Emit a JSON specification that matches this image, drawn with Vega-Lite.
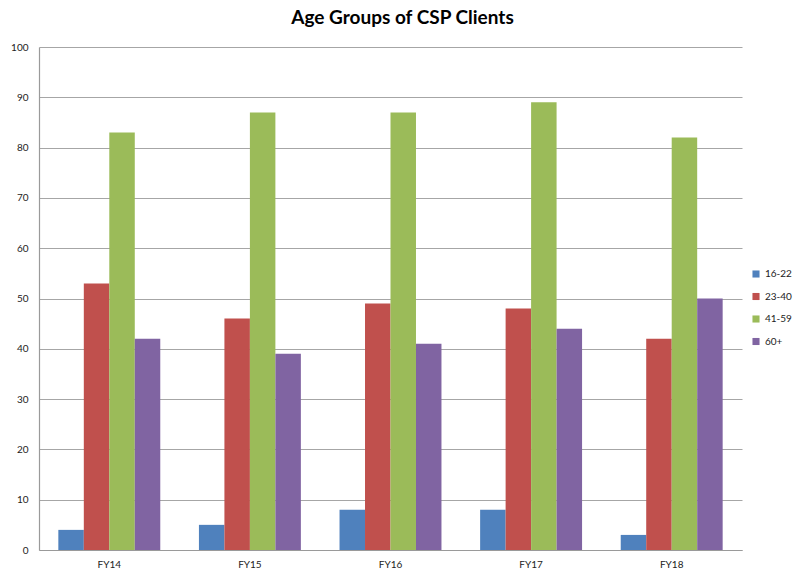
{
  "$schema": "https://vega.github.io/schema/vega-lite/v6.json",
  "autosize": "none",
  "width": 703,
  "height": 503,
  "padding": {"left": 39, "top": 47, "right": 65, "bottom": 29},
  "background": "white",
  "title": {
    "text": "Age Groups of CSP Clients",
    "fontSize": 19,
    "font": "Lato",
    "fontWeight": "bold",
    "color": "#000000",
    "anchor": "middle",
    "dx": 12,
    "offset": 14
  },
  "data": {
    "values": [
      {"year": "FY14", "group": "16-22", "value": 4},
      {"year": "FY14", "group": "23-40", "value": 53},
      {"year": "FY14", "group": "41-59", "value": 83},
      {"year": "FY14", "group": "60+", "value": 42},
      {"year": "FY15", "group": "16-22", "value": 5},
      {"year": "FY15", "group": "23-40", "value": 46},
      {"year": "FY15", "group": "41-59", "value": 87},
      {"year": "FY15", "group": "60+", "value": 39},
      {"year": "FY16", "group": "16-22", "value": 8},
      {"year": "FY16", "group": "23-40", "value": 49},
      {"year": "FY16", "group": "41-59", "value": 87},
      {"year": "FY16", "group": "60+", "value": 41},
      {"year": "FY17", "group": "16-22", "value": 8},
      {"year": "FY17", "group": "23-40", "value": 48},
      {"year": "FY17", "group": "41-59", "value": 89},
      {"year": "FY17", "group": "60+", "value": 44},
      {"year": "FY18", "group": "16-22", "value": 3},
      {"year": "FY18", "group": "23-40", "value": 42},
      {"year": "FY18", "group": "41-59", "value": 82},
      {"year": "FY18", "group": "60+", "value": 50}
    ]
  },
  "mark": {"type": "bar"},
  "encoding": {
    "x": {
      "field": "year",
      "type": "nominal",
      "scale": {"paddingInner": 0.275, "paddingOuter": 0.1375},
      "axis": {
        "title": null,
        "labelAngle": 0,
        "ticks": false,
        "labelPadding": 9,
        "labelFont": "Lato",
        "labelFontSize": 10,
        "labelColor": "#222222",
        "domainColor": "#9a9a9a",
        "domainWidth": 1.2
      }
    },
    "xOffset": {"field": "group", "type": "nominal", "scale": {"paddingInner": 0, "paddingOuter": 0}},
    "y": {
      "field": "value",
      "type": "quantitative",
      "scale": {"domain": [0, 100], "nice": false},
      "axis": {
        "title": null,
        "values": [0, 10, 20, 30, 40, 50, 60, 70, 80, 90, 100],
        "ticks": false,
        "labelPadding": 11,
        "labelFont": "Lato",
        "labelFontSize": 10,
        "labelColor": "#222222",
        "gridColor": "#a6a6a6",
        "gridWidth": 1,
        "domainColor": "#9a9a9a",
        "domainWidth": 1.2
      }
    },
    "color": {
      "field": "group",
      "type": "nominal",
      "scale": {"domain": ["16-22", "23-40", "41-59", "60+"], "range": ["#4F81BD", "#C0504D", "#9BBB59", "#8064A2"]},
      "legend": {
        "title": null,
        "orient": "none",
        "legendX": 712,
        "legendY": 222,
        "symbolType": "square",
        "symbolSize": 50,
        "symbolStrokeWidth": 0,
        "labelFont": "Lato",
        "labelFontSize": 10,
        "labelColor": "#222222",
        "labelOffset": 4,
        "rowPadding": 12.5
      }
    }
  },
  "config": {"view": {"stroke": null}}
}
